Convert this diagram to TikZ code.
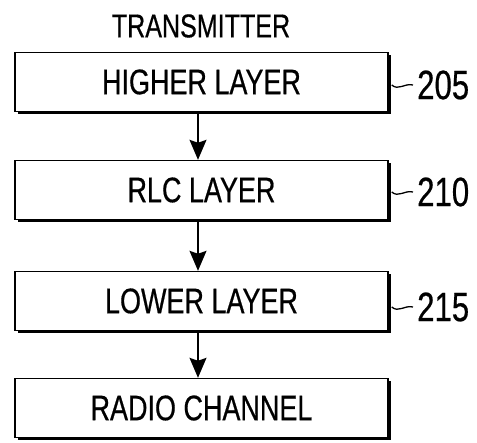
\documentclass[tikz,border=0pt]{standalone}
\usepackage{fontspec}
\setmainfont[FakeStretch=0.76,FakeBold=0.5]{Liberation Sans}
\usetikzlibrary{arrows.meta,shadows}
\begin{document}
\begin{tikzpicture}[x=1pt,y=1pt,
  layerbox/.style={draw=black, line width=1.4pt, fill=white, minimum width=373pt, minimum height=59pt,
    inner sep=0pt, font=\fontsize{35.5}{38}\selectfont,
    drop shadow={shadow xshift=3pt, shadow yshift=-3pt, fill=black, opacity=1}},
  flow/.style={line width=1.4pt, -{Stealth[length=20pt,width=17pt,inset=3pt]}},
  reflabel/.style={font=\fontsize{41}{44}\selectfont, anchor=west, inner sep=0pt},
  leader/.style={line width=1.3pt}]
\useasboundingbox (0,0) rectangle (477,443);
\node[font=\fontsize{33}{36}\selectfont] (title) at (201,443-26) {TRANSMITTER};
\node[layerbox] (b1) at (201.5,443-82) {HIGHER LAYER};
\node[layerbox] (b2) at (201.5,443-190) {RLC LAYER};
\node[layerbox] (b3) at (201.5,443-301) {LOWER LAYER};
\node[layerbox] (b4) at (201.5,443-408) {RADIO CHANNEL};
\draw[flow] (b1.south -| 198,0) -- (b2.north -| 198,0);
\draw[flow] (b2.south -| 198,0) -- (b3.north -| 198,0);
\draw[flow] (b3.south -| 198,0) -- (b4.north -| 198,0);
\node[reflabel] (l1) at (417,443-85) {205};
\node[reflabel] (l2) at (417,443-192) {210};
\node[reflabel] (l3) at (417,443-307) {215};
\foreach \b/\l in {b1/l1,b2/l2,b3/l3}{
  \coordinate (s) at (\b.east |- \l.west);
  \draw[leader] ([xshift=3pt]s) .. controls +(7,-6) and +(-9,2) .. ([xshift=-4pt]\l.west);
}
\end{tikzpicture}
\end{document}
